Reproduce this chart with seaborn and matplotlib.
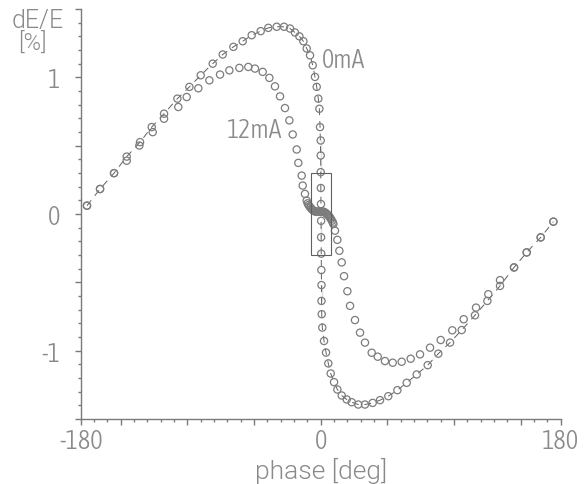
import matplotlib
matplotlib.use("Agg")
import matplotlib.pyplot as plt
import matplotlib.patches as mpatches
import matplotlib.font_manager as fm
from matplotlib.ticker import FixedLocator, MultipleLocator, FixedFormatter
import seaborn as sns
import pandas as pd

# ---- data ----
phase_0mA = [-175.3, -165.5, -155, -145.5, -135.5, -126.75, -117.5, -107.5, -98.5, -90,
             -81, -73.5, -65.5, -58.5, -51.75, -45, -39.3, -33, -27.5, -23,
             -19.3, -16, -13, -10.5, -8, -6, -4.3, -3, -1.8, -1,
             -0.5, 0, 0, 0, 0.1, 0.2, 0.3, 0.3, 0.4, 0.5,
             0.6, 0.6, 0.75, 1.2, 2.5, 4.0, 5.7, 7.5, 10, 12.5,
             15.75, 19.5, 23.25, 28.2, 33.2, 39, 44.5, 50.7, 57.5, 64.5,
             72, 80.25, 88.2, 97, 105.75, 115.7, 125, 134.5, 145, 154.5,
             165, 174.5]
dE_0mA = [0.061, 0.183, 0.299, 0.42, 0.526, 0.636, 0.734, 0.844, 0.93, 1.015,
          1.10, 1.167, 1.223, 1.264, 1.308, 1.338, 1.362, 1.37, 1.37, 1.357,
          1.328, 1.30, 1.264, 1.211, 1.161, 1.088, 1.003, 0.93, 0.844, 0.77,
          0.636, 0.538, 0.428, 0.306, 0.19, 0.073, -0.05, -0.17, -0.29, -0.41,
          -0.52, -0.636, -0.733, -0.831, -0.929, -1.014, -1.093, -1.167, -1.23, -1.284,
          -1.328, -1.357, -1.377, -1.394, -1.394, -1.382, -1.362, -1.333, -1.289, -1.235,
          -1.174, -1.106, -1.022, -0.941, -0.849, -0.741, -0.636, -0.526, -0.391, -0.281,
          -0.171, -0.056]

phase_12mA = [-175.3, -165.5, -155, -145.5, -136, -126, -117.5, -106.8, -100.5, -91.8,
              -83.5, -75.5, -68.5, -61, -54.3, -49.3, -43.5, -38.5, -34.3, -30.5,
              -26.8, -23.5, -21, -18, -16.8, -14.25, -13.5, -11.8, -10.5,
              -9.8, -9.1, -8.4, -7.7, -7.0, -6.3, -5.6, -4.9, -4.2, -3.5,
              -2.8, -2.1, -1.4, -0.7, 0, 0.7, 1.4, 2.1, 2.8, 3.5,
              4.2, 4.9, 5.6, 6.3, 7.0, 7.7, 8.4, 9.1,
              9.5, 10.7, 12.5, 14, 15.75, 17.5, 20, 22, 25.7, 29.5, 33.2, 38.25,
              42.75, 48.2, 54, 60.75, 67.5, 74.5, 82, 90, 98.7, 107.25,
              116.5, 125.7, 134.5, 145, 154.5, 165, 174.5]
dE_12mA = [0.061, 0.183, 0.299, 0.39, 0.501, 0.599, 0.697, 0.783, 0.856, 0.92,
           0.978, 1.02, 1.051, 1.069, 1.076, 1.064, 1.04, 0.996, 0.934, 0.861,
           0.775, 0.685, 0.582, 0.472, 0.374, 0.281, 0.208, 0.147, 0.098,
           0.078, 0.066, 0.056, 0.047, 0.039, 0.032, 0.026, 0.022, 0.019, 0.017,
           0.016, 0.016, 0.017, 0.018, 0.019, 0.019, 0.018, 0.016, 0.013, 0.009,
           0.004, -0.002, -0.009, -0.017, -0.026, -0.037, -0.049, -0.062,
           -0.073, -0.122, -0.189, -0.269, -0.354, -0.455, -0.565, -0.672, -0.776, -0.868, -0.941, -1.015,
           -1.044, -1.076, -1.088, -1.081, -1.059, -1.027, -0.978, -0.922, -0.851, -0.770,
           -0.685, -0.587, -0.484, -0.391, -0.281, -0.171, -0.056]

x_tick_labels = ["-180", "0", "180"]
y_tick_labels = ["-1", "0", "1"]
series_labels = ["0mA", "12mA"]

df0 = pd.DataFrame({"phase": phase_0mA, "dE": dE_0mA})
df12 = pd.DataFrame({"phase": phase_12mA, "dE": dE_12mA})

sns.set_style("white")


# ---- pick thin fonts if installed ----
def _w(f):
    w = f.weight
    if isinstance(w, str):
        table = {"ultralight": 200, "extralight": 200, "light": 300, "thin": 100,
                 "normal": 400, "regular": 400, "book": 400, "medium": 500}
        return table.get(w.lower(), 700)
    return int(w)


def _is_narrow(f):
    s = (f.name + " " + f.fname).lower()
    return (any(k in s for k in ("narrow", "condensed"))
            or str(f.stretch).lower() in ("condensed", "semi-condensed", "extra-condensed"))


FL = [f for f in fm.fontManager.ttflist if f.style == "normal"]


def pick_narrow():
    c = [f for f in FL if _is_narrow(f) and _w(f) <= 400]
    if c:
        c.sort(key=lambda f: abs(_w(f) - 300))
        return fm.FontProperties(fname=c[0].fname)
    return pick_wide()


def pick_wide():
    pref = ["Roboto", "Open Sans", "Lato", "Noto Sans", "Inter", "DejaVu Sans"]
    c = [f for f in FL if not _is_narrow(f) and _w(f) <= 300 and f.name in pref]
    if c:
        c.sort(key=lambda f: (abs(_w(f) - 300), pref.index(f.name)))
        return fm.FontProperties(fname=c[0].fname)
    return fm.FontProperties(family="DejaVu Sans")


FP_N = pick_narrow()
FP_W = pick_wide()
TXT = "#8a8a8a"
AX = "#7a7a7a"


def fp(base, size):
    p = base.copy()
    p.set_size(size)
    return p


fig = plt.figure(figsize=(5.84, 4.85), dpi=100)
ax = fig.add_axes([0.1382, 0.134, 0.8219, 0.8454])

sns.lineplot(data=df0, x="phase", y="dE", sort=False, ax=ax, color="#606060",
             lw=0.7, linestyle=(0, (7, 6)), zorder=1)
sns.scatterplot(data=df0, x="phase", y="dE", ax=ax, marker="o", s=27,
                facecolors="none", edgecolor="#7c7c7c", linewidth=0.9, zorder=2)
sns.scatterplot(data=df12, x="phase", y="dE", ax=ax, marker="o", s=27,
                facecolors="none", edgecolor="#7c7c7c", linewidth=0.9, zorder=2)

ax.add_patch(mpatches.Rectangle((-7.5, -0.3), 15, 0.6, fill=False,
                                ec="#606060", lw=0.8, zorder=3))

ax.set_xlim(-180, 180)
ax.set_ylim(-1.5, 1.5)
for s in ["top", "right"]:
    ax.spines[s].set_visible(False)
for s in ["left", "bottom"]:
    ax.spines[s].set_color(AX)
    ax.spines[s].set_linewidth(1.0)

ax.xaxis.set_major_locator(FixedLocator([-180, -150, -100, -50, 0, 50, 100, 150, 180]))
ax.xaxis.set_major_formatter(FixedFormatter([x_tick_labels[0], "", "", "", x_tick_labels[1],
                                             "", "", "", x_tick_labels[2]]))
ax.xaxis.set_minor_locator(MultipleLocator(10))
ax.yaxis.set_major_locator(FixedLocator([-1.5, -1, -0.5, 0, 0.5, 1, 1.5]))
ax.yaxis.set_major_formatter(FixedFormatter(["", y_tick_labels[0], "", y_tick_labels[1],
                                             "", y_tick_labels[2], ""]))
ax.yaxis.set_minor_locator(MultipleLocator(0.1))
ax.tick_params(which="both", bottom=True, left=True, top=False, right=False)
ax.tick_params(which="major", direction="out", length=4.5, width=1.0, color=AX,
               labelcolor=TXT)
ax.tick_params(which="minor", direction="out", length=2.4, width=1.0, color=AX)
ax.tick_params(axis="x", which="major", pad=2)
ax.tick_params(axis="y", which="major", pad=10)
for lab in ax.get_xticklabels() + ax.get_yticklabels():
    lab.set_fontproperties(fp(FP_N, 19))
ax.set_xlabel("phase [deg]", fontproperties=fp(FP_W, 19), color=TXT, labelpad=3)
ax.set_ylabel("")

ax.text(1, 1.13, series_labels[0], fontproperties=fp(FP_N, 18.5), color=TXT,
        va="center", ha="left")
ax.text(-70, 0.62, series_labels[1], fontproperties=fp(FP_N, 18.5), color=TXT,
        va="center", ha="left")

fig.text(38 / 584, 1 - 21 / 485, "dE/E", fontproperties=fp(FP_W, 18), color=TXT,
         ha="center", va="center")
fig.text(32 / 584, 1 - 43 / 485, "[%]", fontproperties=fp(FP_W, 17), color=TXT,
         ha="center", va="center")

fig.savefig("out.png", dpi=100)
